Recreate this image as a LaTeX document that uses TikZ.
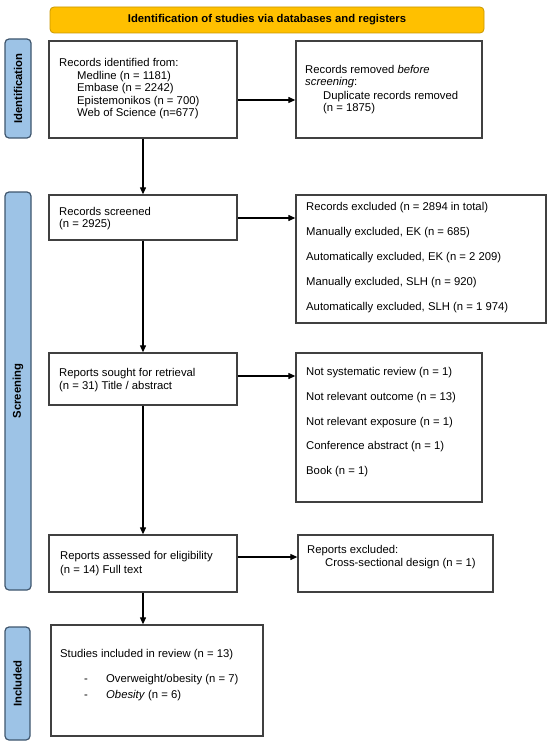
\documentclass[tikz,border=0pt]{standalone}
\usepackage{fontspec}
\setmainfont{Liberation Sans}
\usetikzlibrary{arrows.meta}
\definecolor{bannerfill}{HTML}{FFC000}
\definecolor{bannerdraw}{HTML}{C99700}
\definecolor{sidefill}{HTML}{9DC3E6}
\definecolor{sidedraw}{HTML}{3F566E}
\definecolor{linegrey}{HTML}{404040}
\tikzset{
  box/.style={draw=linegrey, line width=1.3pt, fill=white, inner sep=0pt},
  sidebar/.style={draw=sidedraw, line width=1.2pt, fill=sidefill, rounded corners=4pt, inner sep=0pt},
  sidelabel/.style={rotate=90, font=\fontsize{11.3}{13}\selectfont\bfseries, inner sep=0pt},
  banner/.style={draw=bannerdraw, line width=0.8pt, fill=bannerfill, rounded corners=4pt, inner sep=0pt,
    font=\fontsize{11.3}{13}\selectfont\bfseries},
  txt/.style={anchor=base west, inner sep=0pt, font=\fontsize{11.3}{13}\selectfont},
  arr/.style={draw=black, line width=1.1pt, -{Triangle[length=7pt,width=6pt]}}
}
\begin{document}
\begin{tikzpicture}[x=1pt,y=-1pt]
\useasboundingbox (0,0) rectangle (550,746);
% banner
\node[banner, minimum width=434pt, minimum height=26pt] (ban) at (267,20) {Identification of studies via databases and registers};
% sidebars
\node[sidebar, minimum width=26pt, minimum height=99pt] (s1) at (18,88.5) {};
\node[sidelabel] (s1t) at (s1.center) {Identification};
\node[sidebar, minimum width=26pt, minimum height=398pt] (s2) at (18,391) {};
\node[sidelabel] (s2t) at (s2.center) {Screening};
\node[sidebar, minimum width=25pt, minimum height=113pt] (s3) at (17.5,683.5) {};
\node[sidelabel] (s3t) at (s3.center) {Included};
% boxes
\node[box, minimum width=188pt, minimum height=97pt] (b1) at (143,89.5) {};
\node[box, minimum width=186pt, minimum height=97pt] (b2) at (389,89.5) {};
\node[box, minimum width=188pt, minimum height=45pt] (b3) at (143,217.5) {};
\node[box, minimum width=250pt, minimum height=128pt] (b4) at (421,259) {};
\node[box, minimum width=188pt, minimum height=52pt] (b5) at (143,379) {};
\node[box, minimum width=186pt, minimum height=149pt] (b6) at (389,427.5) {};
\node[box, minimum width=188pt, minimum height=57pt] (b7) at (143,563.5) {};
\node[box, minimum width=195pt, minimum height=57pt] (b8) at (395.5,563.5) {};
\node[box, minimum width=212pt, minimum height=111pt] (b9) at (157,680.5) {};
% box 1 text
\node[txt] (t1a) at (59,66.5) {Records identified from:};
\node[txt] (t1b) at (77,79.5) {Medline (n = 1181)};
\node[txt] (t1c) at (77,92) {Embase (n = 2242)};
\node[txt] (t1d) at (77,104.5) {Epistemonikos (n = 700)};
\node[txt] (t1e) at (77,117) {Web of Science (n=677)};
% box 2 text
\node[txt] (t2a) at (305,74) {Records removed \textit{before}};
\node[txt] (t2b) at (305,86) {\textit{screening}:};
\node[txt] (t2c) at (323,99.5) {Duplicate records removed};
\node[txt] (t2d) at (323,112) {(n = 1875)};
% box 3 text
\node[txt] (t3a) at (59,215) {Records screened};
\node[txt] (t3b) at (59,227) {(n = 2925)};
% box 4 text
\node[txt] (t4a) at (306,210.5) {Records excluded (n = 2894 in total)};
\node[txt] (t4b) at (306,235.5) {Manually excluded, EK (n = 685)};
\node[txt] (t4c) at (306,260.5) {Automatically excluded, EK (n = 2 209)};
\node[txt] (t4d) at (306,285.5) {Manually excluded, SLH (n = 920)};
\node[txt] (t4e) at (306,310.5) {Automatically excluded, SLH (n = 1 974)};
% box 5 text
\node[txt] (t5a) at (59,376.5) {Reports sought for retrieval};
\node[txt] (t5b) at (59,389) {(n = 31) Title / abstract};
% box 6 text
\node[txt] (t6a) at (306,375.5) {Not systematic review (n = 1)};
\node[txt] (t6b) at (306,400) {Not relevant outcome (n = 13)};
\node[txt] (t6c) at (306,425) {Not relevant exposure (n = 1)};
\node[txt] (t6d) at (306,449.5) {Conference abstract (n = 1)};
\node[txt] (t6e) at (306,474.5) {Book (n = 1)};
% box 7 text
\node[txt] (t7a) at (60,559) {Reports assessed for eligibility};
\node[txt] (t7b) at (60,573) {(n = 14) Full text};
% box 8 text
\node[txt] (t8a) at (307,553) {Reports excluded:};
\node[txt] (t8b) at (325,566.5) {Cross-sectional design (n = 1)};
% box 9 text
\node[txt] (t9a) at (60,657) {Studies included in review (n = 13)};
\node[txt] (t9b) at (84,682) {-};
\node[txt] (t9c) at (106,682) {Overweight/obesity (n = 7)};
\node[txt] (t9d) at (84,698) {-};
\node[txt] (t9e) at (106,698) {\textit{Obesity} (n = 6)};
% connectors
\draw[arr] (b1.east |- 0,100) -- (b2.west |- 0,100);
\draw[arr] (b3.east |- 0,218) -- (b4.west |- 0,218);
\draw[arr] (b5.east |- 0,376) -- (b6.west |- 0,376);
\draw[arr] (b7.east |- 0,557) -- (b8.west |- 0,557);
\draw[arr] (b1.south) -- (b3.north);
\draw[arr] (b3.south) -- (b5.north);
\draw[arr] (b5.south) -- (b7.north);
\draw[arr] (b7.south) -- (b7.south |- b9.north);
\end{tikzpicture}
\end{document}
